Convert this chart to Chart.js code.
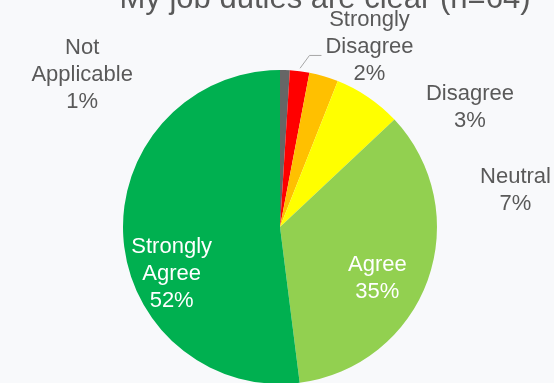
<!DOCTYPE html>
<html>
<head>
<meta charset="utf-8">
<script src="https://cdn.jsdelivr.net/npm/chart.js@4.4.0/dist/chart.umd.min.js"></script>
<style>
    html, body { margin: 0; padding: 0; width: 554px; height: 383px; overflow: hidden; background: #f8f9fb; }
    #wrap { position: absolute; left: 0; top: -20px; width: 554px; height: 420px; }
</style>
</head>
<body>
<div id="wrap"><canvas id="dutiesChart"></canvas></div>
<script>
const chartTitle = 'My job duties are clear (n=64)';
const categories = ['Not Applicable', 'Strongly Disagree', 'Disagree', 'Neutral', 'Agree', 'Strongly Agree'];
const percentages = [1, 2, 3, 7, 35, 52];
const sliceColors = ['#666666', '#ff0000', '#ffc000', '#ffff00', '#92d050', '#00b050'];

// labels are placed relative to the pie centre, in units of the radius
// [dx, dy, inside?]
const labelSpots = [
    [-1.26, -0.97, false],
    [0.57, -1.15, false],
    [1.21, -0.76, false],
    [1.50, -0.23, false],
    [0.62, 0.33, true],
    [-0.69, 0.30, true]
];

const pieLabels = {
    id: 'pieLabels',
    afterDatasetsDraw(chart, args, opts) {
        const ctx = chart.ctx;
        const arcs = chart.getDatasetMeta(0).data;
        const cx = arcs[0].x, cy = arcs[0].y, r = arcs[0].outerRadius;
        const values = chart.data.datasets[0].data;

        ctx.save();
        // title
        ctx.font = opts.titleFont;
        ctx.fillStyle = '#595959';
        ctx.textAlign = 'center';
        ctx.textBaseline = 'alphabetic';
        ctx.fillText(opts.title, opts.titleX, opts.titleY);

        ctx.font = opts.font;
        ctx.textBaseline = 'middle';
        chart.data.labels.forEach((name, i) => {
            const spot = labelSpots[i];
            const x = cx + spot[0] * r;
            const y = cy + spot[1] * r;
            const lines = name.split(' ').concat(values[i] + '%');
            const top = y - (lines.length - 1) * opts.lineHeight / 2;
            ctx.fillStyle = spot[2] ? '#ffffff' : '#595959';
            lines.forEach((t, k) => ctx.fillText(t, x, top + k * opts.lineHeight));

            // leader line for the thin slice whose label sits away from it
            if (i === 1) {
                const a = arcs[i];
                const mid = (a.startAngle + a.endAngle) / 2;
                const sx = cx + Math.cos(mid) * (r + 3);
                const sy = cy + Math.sin(mid) * (r + 3);
                const w = Math.max(...lines.map(t => ctx.measureText(t).width));
                const ex = x - w / 2 - 4;
                const ey = y + 9;
                ctx.strokeStyle = '#a6a6a6';
                ctx.lineWidth = 1;
                ctx.beginPath();
                ctx.moveTo(sx, sy);
                ctx.lineTo(ex - 12, ey);
                ctx.lineTo(ex, ey);
                ctx.stroke();
            }
        });
        ctx.restore();
    }
};

new Chart(document.getElementById('dutiesChart'), {
    type: 'pie',
    data: {
        labels: categories,
        datasets: [{
            data: percentages,
            backgroundColor: sliceColors,
            borderWidth: 0
        }]
    },
    options: {
        responsive: true,
        maintainAspectRatio: false,
        animation: false,
        layout: {
            padding: { left: 123, right: 117, top: 90, bottom: 16 }
        },
        plugins: {
            legend: { display: false },
            tooltip: { enabled: false },
            title: { display: false },
            pieLabels: {
                title: chartTitle,
                titleFont: '31px "Liberation Sans", Arial, sans-serif',
                titleX: 325,
                titleY: 28,
                font: '22px "Liberation Sans", Arial, sans-serif',
                lineHeight: 27
            }
        }
    },
    plugins: [pieLabels]
});
</script>
</body>
</html>
